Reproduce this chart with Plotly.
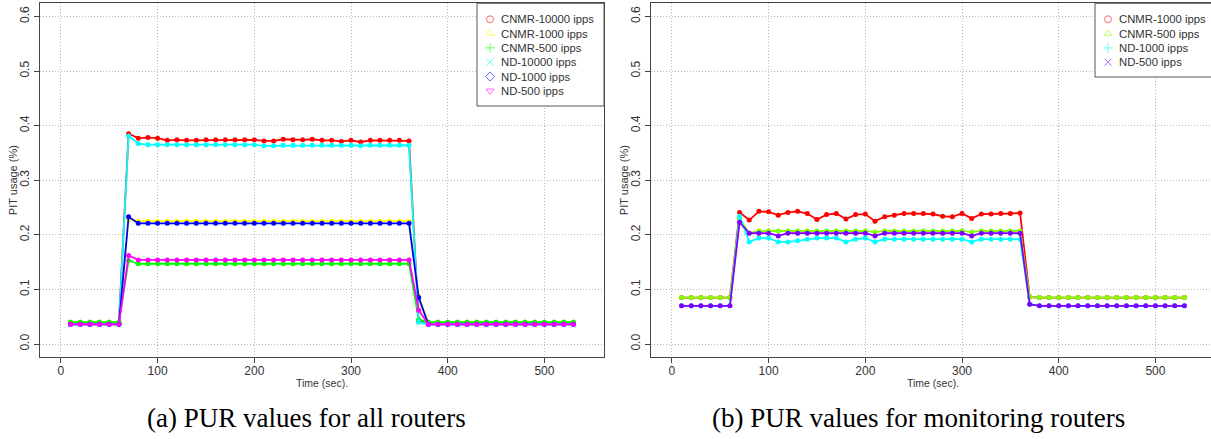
import plotly.graph_objects as go

W, H = 1211, 439

# ---------------- data ----------------
time_s = [10, 20, 30, 40, 50, 60, 70, 80, 90, 100, 110, 120, 130, 140, 150, 160, 170, 180,
          190, 200, 210, 220, 230, 240, 250, 260, 270, 280, 290, 300, 310, 320, 330, 340,
          350, 360, 370, 380, 390, 400, 410, 420, 430, 440, 450, 460, 470, 480, 490, 500,
          510, 520, 530]

# (a) all routers
a_names = ["CNMR-10000 ipps", "CNMR-1000 ipps", "CNMR-500 ipps",
           "ND-10000 ipps", "ND-1000 ipps", "ND-500 ipps"]
a_cnmr_10000 = [0.040, 0.040, 0.040, 0.040, 0.040, 0.040,
                0.385, 0.377, 0.378, 0.377, 0.373, 0.374, 0.373, 0.373, 0.374, 0.374,
                0.374, 0.374, 0.374, 0.374, 0.372, 0.372, 0.375, 0.374, 0.374, 0.375,
                0.373, 0.373, 0.371, 0.373, 0.370, 0.373, 0.373, 0.373, 0.373, 0.372,
                0.041,
                0.040, 0.040, 0.040, 0.040, 0.040, 0.040, 0.040, 0.040, 0.040, 0.040,
                0.040, 0.040, 0.040, 0.040, 0.040, 0.040]
a_cnmr_1000 = [0.040, 0.040, 0.040, 0.040, 0.040, 0.040,
               0.228, 0.225, 0.225, 0.225, 0.225, 0.225, 0.225, 0.225, 0.225, 0.225,
               0.225, 0.225, 0.225, 0.225, 0.225, 0.225, 0.225, 0.225, 0.225, 0.225,
               0.225, 0.225, 0.225, 0.225, 0.225, 0.225, 0.225, 0.225, 0.225, 0.225,
               0.088,
               0.040, 0.040, 0.040, 0.040, 0.040, 0.040, 0.040, 0.040, 0.040, 0.040,
               0.040, 0.040, 0.040, 0.040, 0.040, 0.040]
a_cnmr_500 = [0.040, 0.040, 0.040, 0.040, 0.040, 0.040,
              0.153, 0.147, 0.147, 0.147, 0.147, 0.147, 0.147, 0.147, 0.147, 0.147,
              0.147, 0.147, 0.147, 0.147, 0.147, 0.147, 0.147, 0.147, 0.147, 0.147,
              0.147, 0.147, 0.147, 0.147, 0.147, 0.147, 0.147, 0.147, 0.147, 0.147,
              0.045,
              0.040, 0.040, 0.040, 0.040, 0.040, 0.040, 0.040, 0.040, 0.040, 0.040,
              0.040, 0.040, 0.040, 0.040, 0.040, 0.040]
a_nd_10000 = [0.036, 0.036, 0.036, 0.036, 0.036, 0.036,
              0.381, 0.367, 0.365, 0.365, 0.365, 0.365, 0.365, 0.365, 0.365, 0.365,
              0.365, 0.365, 0.365, 0.365, 0.363, 0.363, 0.364, 0.364, 0.364, 0.364,
              0.364, 0.364, 0.364, 0.364, 0.363, 0.364, 0.364, 0.364, 0.364, 0.364,
              0.040,
              0.036, 0.036, 0.036, 0.036, 0.036, 0.036, 0.036, 0.036, 0.036, 0.036,
              0.036, 0.036, 0.036, 0.036, 0.036, 0.036]
a_nd_1000 = [0.036, 0.036, 0.036, 0.036, 0.036, 0.036,
             0.233, 0.221, 0.221, 0.221, 0.221, 0.221, 0.221, 0.221, 0.221, 0.221,
             0.221, 0.221, 0.221, 0.221, 0.221, 0.221, 0.221, 0.221, 0.221, 0.221,
             0.221, 0.221, 0.221, 0.221, 0.221, 0.221, 0.221, 0.221, 0.221, 0.221,
             0.085,
             0.036, 0.036, 0.036, 0.036, 0.036, 0.036, 0.036, 0.036, 0.036, 0.036,
             0.036, 0.036, 0.036, 0.036, 0.036, 0.036]
a_nd_500 = [0.036, 0.036, 0.036, 0.036, 0.036, 0.036,
            0.162, 0.154, 0.154, 0.154, 0.154, 0.154, 0.154, 0.154, 0.154, 0.154,
            0.154, 0.154, 0.154, 0.154, 0.154, 0.154, 0.154, 0.154, 0.154, 0.154,
            0.154, 0.154, 0.154, 0.154, 0.154, 0.154, 0.154, 0.154, 0.154, 0.154,
            0.062,
            0.036, 0.036, 0.036, 0.036, 0.036, 0.036, 0.036, 0.036, 0.036, 0.036,
            0.036, 0.036, 0.036, 0.036, 0.036, 0.036]
a_series = [a_cnmr_10000, a_cnmr_1000, a_cnmr_500, a_nd_10000, a_nd_1000, a_nd_500]
a_colors = ["#FF0000", "#FFFF00", "#00FF00", "#00FFFF", "#0000FF", "#FF00FF"]
a_symbols = ["circle-open", "triangle-up-open", "cross-thin-open",
             "x-thin-open", "diamond-open", "triangle-down-open"]

# (b) monitoring routers
b_names = ["CNMR-1000 ipps", "CNMR-500 ipps", "ND-1000 ipps", "ND-500 ipps"]
b_cnmr_1000 = [0.085, 0.085, 0.085, 0.085, 0.085, 0.085,
               0.241, 0.227, 0.243, 0.242, 0.236, 0.241, 0.243, 0.239, 0.228, 0.237,
               0.239, 0.229, 0.237, 0.238, 0.225, 0.233, 0.236, 0.239, 0.239, 0.239,
               0.238, 0.234, 0.233, 0.239, 0.230, 0.238, 0.238, 0.239, 0.239, 0.240,
               0.086,
               0.085, 0.085, 0.085, 0.085, 0.085, 0.085, 0.085, 0.085, 0.085, 0.085,
               0.085, 0.085, 0.085, 0.085, 0.085, 0.085]
b_cnmr_500 = [0.085, 0.085, 0.085, 0.085, 0.085, 0.085,
              0.230, 0.203, 0.207, 0.207, 0.207, 0.207, 0.207, 0.207, 0.207, 0.207,
              0.207, 0.207, 0.207, 0.207, 0.205, 0.207, 0.207, 0.207, 0.207, 0.207,
              0.207, 0.207, 0.207, 0.207, 0.205, 0.207, 0.207, 0.207, 0.207, 0.207,
              0.086,
              0.085, 0.085, 0.085, 0.085, 0.085, 0.085, 0.085, 0.085, 0.085, 0.085,
              0.085, 0.085, 0.085, 0.085, 0.085, 0.085]
b_nd_1000 = [0.070, 0.070, 0.070, 0.070, 0.070, 0.070,
             0.234, 0.187, 0.194, 0.194, 0.187, 0.187, 0.189, 0.192, 0.194, 0.194,
             0.194, 0.187, 0.192, 0.194, 0.187, 0.192, 0.192, 0.192, 0.192, 0.192,
             0.192, 0.192, 0.192, 0.192, 0.187, 0.192, 0.192, 0.192, 0.192, 0.192,
             0.073,
             0.070, 0.070, 0.070, 0.070, 0.070, 0.070, 0.070, 0.070, 0.070, 0.070,
             0.070, 0.070, 0.070, 0.070, 0.070, 0.070]
b_nd_500 = [0.070, 0.070, 0.070, 0.070, 0.070, 0.070,
            0.223, 0.203, 0.203, 0.203, 0.198, 0.203, 0.203, 0.203, 0.203, 0.203,
            0.203, 0.203, 0.203, 0.203, 0.198, 0.203, 0.203, 0.203, 0.203, 0.203,
            0.203, 0.203, 0.203, 0.203, 0.198, 0.203, 0.203, 0.203, 0.203, 0.203,
            0.073,
            0.070, 0.070, 0.070, 0.070, 0.070, 0.070, 0.070, 0.070, 0.070, 0.070,
            0.070, 0.070, 0.070, 0.070, 0.070, 0.070]
b_series = [b_cnmr_1000, b_cnmr_500, b_nd_1000, b_nd_500]
b_colors = ["#FF0000", "#80FF00", "#00FFFF", "#8000FF"]
b_symbols = ["circle-open", "triangle-up-open", "cross-thin-open", "x-thin-open"]

x_ticks = [0, 100, 200, 300, 400, 500]
y_ticks = [0.0, 0.1, 0.2, 0.3, 0.4, 0.5, 0.6]

captions = ["(a) PUR values for all routers", "(b) PUR values for monitoring routers"]
x_title = "Time (sec)."
y_title = "PIT usage (%)"

# ---------------- layout helpers (pixel -> paper) ----------------
def px(x):
    return x / W


def py(y):
    return 1 - y / H


SANS = "Liberation Sans, Arial, sans-serif"
SERIF = "Liberation Serif, Times New Roman, serif"
TXT = "#333333"

fig = go.Figure()

# data traces
for vals, col in zip(a_series, a_colors):
    fig.add_trace(go.Scatter(x=time_s, y=vals, mode="lines+markers", xaxis="x", yaxis="y",
                             line=dict(color=col, width=1.8),
                             marker=dict(color=col, size=5, symbol="circle"),
                             showlegend=False, hoverinfo="skip"))
for vals, col in zip(b_series, b_colors):
    fig.add_trace(go.Scatter(x=time_s, y=vals, mode="lines+markers", xaxis="x2", yaxis="y2",
                             line=dict(color=col, width=1.8),
                             marker=dict(color=col, size=5, symbol="circle"),
                             showlegend=False, hoverinfo="skip"))

# panel geometry (pixels)
y_top, y_bot = 3.3, 357.1
left_box = (40, 604)
right_box = (651, 1215)
xr_left = [-21.6, 561.6]
xr_right = [-21.6, -21.6 + (W - right_box[0]) * (583.2 / (right_box[1] - right_box[0]))]
yr = [-0.024, 0.624]

axis_common = dict(showgrid=True, gridcolor="#b8b8b8", griddash="1px,2px", gridwidth=1,
                   zeroline=False, ticks="outside", ticklen=5, tickcolor="#444",
                   tickwidth=1, tickfont=dict(family=SANS, size=12, color=TXT),
                   linecolor="#444", linewidth=1)

fig.update_layout(
    width=W, height=H,
    margin=dict(l=0, r=0, t=0, b=0),
    paper_bgcolor="white", plot_bgcolor="rgba(0,0,0,0)",
    showlegend=False,
    xaxis=dict(domain=[px(left_box[0]), px(left_box[1])], range=xr_left, tickvals=x_ticks,
               anchor="y", showline=True, mirror=True, ticklabelstandoff=-3, **axis_common),
    yaxis=dict(domain=[py(y_bot), py(y_top)], range=yr, tickvals=y_ticks, tickformat=".1f",
               tickangle=-90, anchor="x", showline=True, mirror=True, **axis_common),
    xaxis2=dict(domain=[px(right_box[0]), 1.0], range=xr_right, tickvals=x_ticks,
                anchor="y2", showline=True, mirror=True, ticklabelstandoff=-3, **axis_common),
    yaxis2=dict(domain=[py(y_bot), py(y_top)], range=yr, tickvals=y_ticks, tickformat=".1f",
                tickangle=-90, anchor="x2", showline=True, mirror=False, **axis_common),
    xaxis3=dict(domain=[0, 1], range=[0, W], visible=False, anchor="y3", fixedrange=True),
    yaxis3=dict(domain=[0, 1], range=[H, 0], visible=False, anchor="x3", fixedrange=True),
)

annotations = []

# axis titles and captions
for (l, r), cap, cx in [(left_box, captions[0], 306), (right_box, captions[1], 918)]:
    annotations.append(dict(x=px((l + r) / 2), y=py(383), xref="paper", yref="paper",
                            text=x_title, showarrow=False, xanchor="center", yanchor="middle",
                            font=dict(family=SANS, size=10.5, color=TXT)))
    annotations.append(dict(x=px(l - 27), y=py((y_top + y_bot) / 2), xref="paper", yref="paper",
                            text=y_title, showarrow=False, textangle=-90,
                            xanchor="center", yanchor="middle",
                            font=dict(family=SANS, size=11, color=TXT)))
    annotations.append(dict(x=px(cx), y=py(418), xref="paper", yref="paper", text=cap,
                            showarrow=False, xanchor="center", yanchor="middle",
                            font=dict(family=SERIF, size=27, color="black")))

# manual legends (drawn on a full-figure pixel overlay so they sit above the data)
row_y = [19.3, 33.6, 47.9, 62.2, 76.5, 90.8]
for (bx0, bx1, by1, names, colors, symbols) in [
        (477, 604, 106, a_names, a_colors, a_symbols),
        (1095, 1216, 77, b_names, b_colors, b_symbols)]:
    fig.add_trace(go.Scatter(x=[bx0, bx1, bx1, bx0, bx0],
                             y=[y_top, y_top, by1, by1, y_top],
                             mode="lines", fill="toself", fillcolor="white",
                             line=dict(color="#555", width=1),
                             xaxis="x3", yaxis="y3", showlegend=False, hoverinfo="skip"))
    n = len(names)
    fig.add_trace(go.Scatter(x=[bx0 + 13] * n, y=row_y[:n], mode="markers",
                             xaxis="x3", yaxis="y3", showlegend=False, hoverinfo="skip",
                             opacity=0.6,
                             marker=dict(symbol=symbols, color=colors, size=7,
                                         line=dict(color=colors, width=1))))
    for name, yy in zip(names, row_y):
        annotations.append(dict(x=px(bx0 + 22), y=py(yy), xref="paper", yref="paper",
                                text=name, showarrow=False, xanchor="left", yanchor="middle",
                                font=dict(family=SANS, size=11.3, color=TXT)))

fig.update_layout(annotations=annotations)
fig.write_html("out.html", config={"displayModeBar": False},
               post_script="document.body.style.margin='0';")
